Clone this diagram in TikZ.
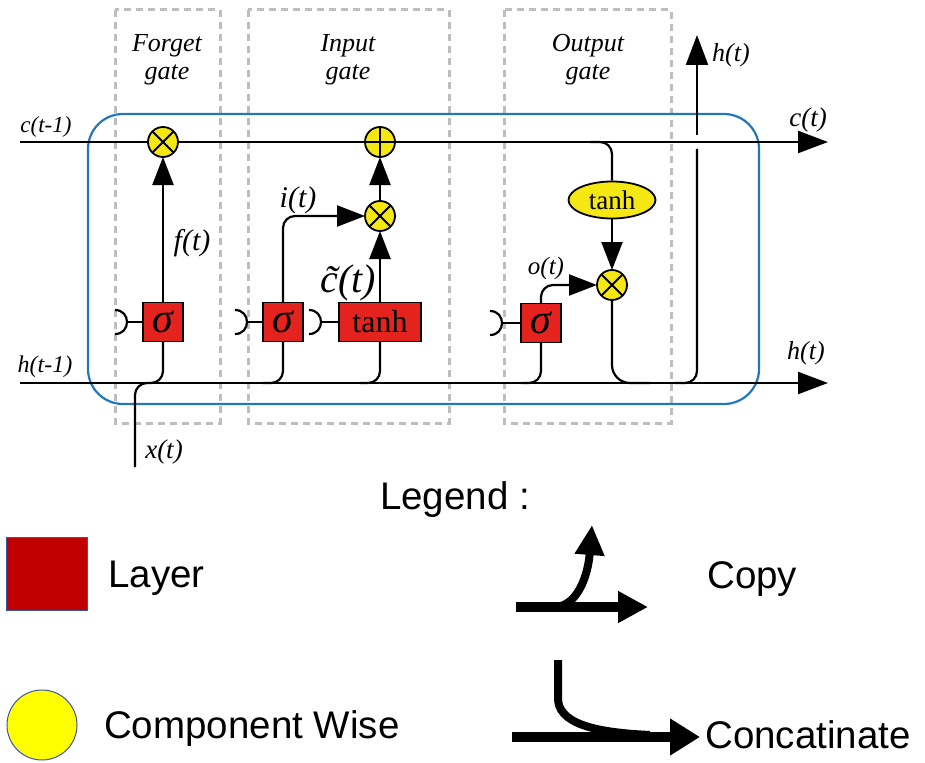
\documentclass[tikz,border=0pt]{standalone}
\usepackage{fontspec}
\setmainfont{Liberation Serif}
\setsansfont{Liberation Sans}
\usetikzlibrary{arrows.meta,shapes.geometric}
\definecolor{layerred}{RGB}{228,34,30}
\definecolor{opyellow}{RGB}{245,232,18}
\definecolor{cellblue}{RGB}{35,118,190}
\definecolor{gategray}{RGB}{190,190,190}
\definecolor{legred}{RGB}{192,0,0}
\definecolor{legyellow}{RGB}{255,255,0}
\definecolor{legblue}{RGB}{60,85,165}
\newcommand{\ptsize}[1]{\fontsize{#1}{#1}\selectfont}
\tikzset{
  wire/.style={line width=2.2pt},
  arr/.style={wire,-{Triangle[length=28pt,width=21pt]}},
  layer/.style={draw,line width=1.8pt,fill=layerred,minimum width=40pt,minimum height=39pt,
    inner sep=0pt,outer sep=0pt,font=\ptsize{32}},
  op/.style={circle,draw,line width=1.8pt,fill=opyellow,minimum size=30pt,inner sep=0pt,outer sep=0pt},
  mul/.style={op,path picture={\draw[line width=1.8pt]
    (path picture bounding box.north west) -- (path picture bounding box.south east)
    (path picture bounding box.north east) -- (path picture bounding box.south west);}},
  add/.style={op,path picture={\draw[line width=1.8pt]
    (path picture bounding box.north) -- (path picture bounding box.south)
    (path picture bounding box.west) -- (path picture bounding box.east);}},
  gatebox/.style={draw=gategray,line width=3pt,dash pattern=on 7pt off 5pt},
  gatelabel/.style={align=center,inner sep=0pt,font=\ptsize{26}\itshape,
    text depth=0pt},
  lbl/.style={inner sep=0pt,font=\ptsize{24}\itshape},
  legtext/.style={inner sep=0pt,anchor=base west,font=\sffamily\ptsize{38.5}},
  bigarr/.style={line width=10pt,-{Triangle[length=30pt,width=30pt]}}
}
% hook in front of a layer
\newcommand{\gatein}[2]{%
  \draw[wire] (#1.west) -- ++(-#2,0) coordinate (#1-in);
  \draw[wire] ([shift={(-13,-12)}]#1-in) .. controls +(16,0) and +(16,0) .. ([shift={(-13,12)}]#1-in);}

\begin{document}
\begin{tikzpicture}[x=1pt,y=-1pt]
  \useasboundingbox (0,0) rectangle (925,762);

  % gates and cell
  \draw[gatebox] (115,10) rectangle (220,423);
  \draw[gatebox] (248,10) rectangle (449,423);
  \draw[gatebox] (504,10) rectangle (671,423);
  \draw[cellblue,line width=2.2pt,rounded corners=35pt] (88,114) rectangle (759,404);

  \node[gatelabel] (fgate) at (167,57) {Forget\\[2pt]gate};
  \node[gatelabel] (igate) at (348,57) {Input\\[2pt]gate};
  \node[gatelabel] (ogate) at (588,57) {Output\\[2pt]gate};

  % state lines
  \coordinate (cin) at (20,142);  \coordinate (cout) at (828,142);
  \coordinate (hin) at (20,383);  \coordinate (hout) at (828,383);
  \coordinate (xin) at (135,467); \coordinate (hup) at (697,35);
  \draw[arr,-{Triangle[length=30pt,width=22pt]}] (cin) -- (cout);
  \draw[arr,-{Triangle[length=30pt,width=22pt]}] (hin) -- (hout);

  \node[lbl,font=\ptsize{23}\itshape] (lcprev) at (46,127) {c(t-1)};
  \node[lbl] (lhprev) at (45,367) {h(t-1)};
  \node[lbl,font=\ptsize{27}\itshape] (lcnext) at (808,120) {c(t)};
  \node[lbl,font=\ptsize{26}\itshape] (lhnext) at (806,353) {h(t)};
  \node[lbl,font=\ptsize{26}\itshape,anchor=west] (lhtop) at (712,55) {h(t)};
  \node[lbl,font=\ptsize{27}\itshape] (lx) at (164,452) {x(t)};

  % forget gate
  \node[layer] (fsig) at (163,322) {\ptsize{42}\itshape σ};
  \node[mul] (fmul) at (163,142) {};
  \gatein{fsig}{15}
  \draw[arr] (fsig) -- (fmul);
  \draw[wire,rounded corners=12pt] (xin) -- (135,383) -- (163,383) -- (fsig.south);
  \node[lbl,font=\ptsize{30}\itshape] (lf) at (192,243) {f(t)};

  % input gate
  \node[layer] (isig) at (283,322) {\ptsize{42}\itshape σ};
  \node[layer,minimum width=82pt] (itanh) at (380,322) {tanh};
  \node[mul] (imul) at (380,216) {};
  \node[add] (iadd) at (380,142) {};
  \gatein{isig}{15}
  \gatein{itanh}{17}
  \draw[arr,rounded corners=12pt] (isig.north) |- (imul.west);
  \draw[arr] (itanh) -- (imul);
  \draw[arr] (imul) -- (iadd);
  \draw[wire,rounded corners=12pt] (isig.south) -- (isig.south |- hin) -- ++(-20,0);
  \draw[wire,rounded corners=12pt] (itanh.south) -- (itanh.south |- hin) -- ++(-20,0);
  \node[lbl,font=\ptsize{30}\itshape] (li) at (298,200) {i(t)};
  \node[lbl,font=\ptsize{40}\itshape] (lcand) at (348,283) {\~{c}(t)};

  % output gate
  \node[layer] (osig) at (541,323) {\ptsize{42}\itshape σ};
  \node[ellipse,draw,line width=1.8pt,fill=opyellow,minimum width=87pt,minimum height=37pt,
    inner sep=0pt,font=\ptsize{27}] (otanh) at (612,200) {tanh};
  \node[mul] (omul) at (612,285) {};
  \gatein{osig}{18}
  \draw[arr,rounded corners=12pt] (osig.north) |- (omul.west);
  \draw[wire,rounded corners=12pt] (590,142) -| (otanh.north);
  \draw[arr] (otanh) -- (omul);
  \draw[wire,rounded corners=12pt] (osig.south) -- (osig.south |- hin) -- ++(-20,0);
  \draw[wire,rounded corners=18pt] (omul.south) |- (650,383);
  \draw[wire,rounded corners=12pt] (675,383) -| (697,149);
  \draw[arr,-{Triangle[length=30pt,width=22pt]}] (697,135) -- (hup);
  \node[lbl,font=\ptsize{25}\itshape] (lo) at (546,268) {o(t)};

  % legend
  \node[inner sep=0pt,anchor=base,font=\sffamily\ptsize{38.5}] (legend) at (455,509) {Legend :};
  \node[draw=legblue,line width=1pt,fill=legred,minimum width=81pt,minimum height=73pt] (lsq) at (47,574) {};
  \node[legtext] (llayer) at (108,587) {Layer};
  \node[circle,draw=legblue,line width=1pt,fill=legyellow,minimum size=70pt,inner sep=0pt] (lcirc) at (42,725) {};
  \node[legtext] (lcomp) at (104,738) {Component Wise};
  \node[legtext] (lcopy) at (707,588) {Copy};
  \node[legtext] (lconcat) at (705,748) {Concatinate};

  \coordinate (cpa) at (516,607); \coordinate (cpb) at (648,607);
  \coordinate (cps) at (556,607); \coordinate (cpc) at (592,525);
  \draw[bigarr] (cpa) -- (cpb);
  \draw[line width=8pt,-{Triangle[length=30pt,width=28pt]}] (cps) .. controls (578,605) and (588,575) .. (cpc);

  \coordinate (cta) at (512,737); \coordinate (ctb) at (700,737);
  \coordinate (ctc) at (558,660); \coordinate (ctm) at (650,735);
  \draw[bigarr,-{Triangle[length=30pt,width=35pt]}] (cta) -- (ctb);
  \draw[line width=8pt] (ctc) -- (558,700) .. controls (560,728) and (610,733) .. (ctm);
\end{tikzpicture}
\end{document}
